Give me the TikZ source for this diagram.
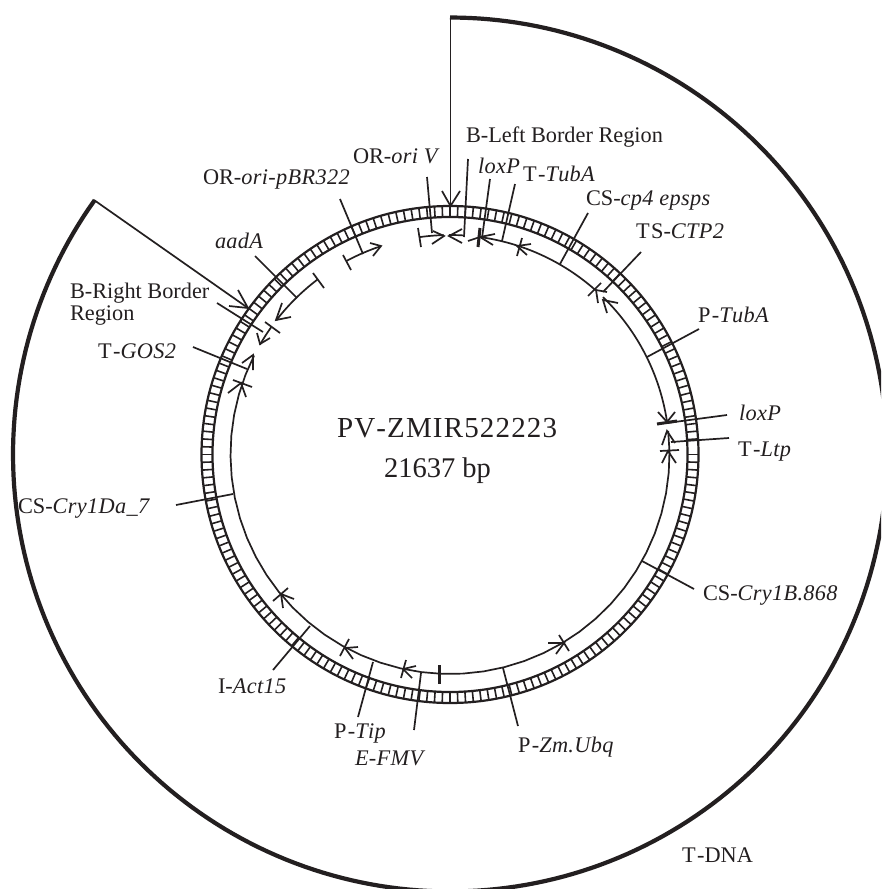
\documentclass[tikz,border=0pt]{standalone}
\usepackage{fontspec}
\setmainfont{Liberation Serif}[Kerning=Off,ItalicFeatures={LetterSpace=1.5,Kerning=Off}]
\definecolor{ink}{HTML}{231F20}
\newcommand{\txtsize}{\fontsize{22.3}{24}\selectfont}
\newcommand{\ringpart}[2]{\draw[gene] plot[domain=#1:#2,samples=40] ({450+219.5*cos(\x)},{454.5+219.5*sin(\x)});}
\newcommand{\lbl}[4]{\node[lab] (#1) at (#2,#3) {#4};}
\newcommand{\gp}{\kern1.5pt}
\tikzset{
 lab/.style={anchor=base west,inner sep=0pt,outer sep=0pt,text=ink,font=\txtsize},
 title/.style={anchor=base west,inner sep=0pt,outer sep=0pt,text=ink,font=\fontsize{28.5}{32}\selectfont},
 gene/.style={draw=ink,line width=1.7pt},
 leader/.style={draw=ink,line width=1.7pt},
 head/.style={draw=ink,line width=1.7pt,line join=miter},
 thickbar/.style={draw=ink,line width=3pt},
 outerarc/.style={draw=ink,line width=4.2pt},
 ringline/.style={draw=ink,line width=2.2pt},
 tick/.style={draw=ink,line width=1.6pt}
}
\begin{document}
\begin{tikzpicture}[x=1pt,y=-1pt]
\clip (0,0) rectangle (881,889);
\fill[white] (0,0) rectangle (881,889);
\coordinate (c) at (450,454.5);
% outer T-DNA arc
\draw[outerarc] plot[domain=-90:215.6,samples=240] ({450+437*cos(\x)},{454.5+437*sin(\x)});
% border arrows
\coordinate (tl) at (450.5,18); \coordinate (tlt) at (450.5,206);
\coordinate (tr) at (94,200); \coordinate (trt) at (248,308);
\draw[leader] (tl) -- (tlt);
\draw[head] (442,191) -- (tlt) -- (460,191);
\draw[leader] (tr) -- (trt);
\draw[head] (238,290) -- (trt) -- (229,306);
% ring
\foreach \a in {0,1.8,...,358.2} {\draw[tick] ({450+237.5*cos(\a)},{454.5+237.5*sin(\a)}) -- ({450+248.5*cos(\a)},{454.5+248.5*sin(\a)});}
\draw[ringline] (450,454.5) circle[x radius=237.5,y radius=237.5];
\draw[ringline] (450,454.5) circle[x radius=248.5,y radius=248.5];
% main feature arcs
\ringpart{-81.6}{-48.4}
\ringpart{-45.8}{-8.5}
\ringpart{-6.2}{206.8}
\ringpart{-97.9}{-91.6}
\ringpart{-90.3}{-86.3}
\ringpart{241.9}{251.7}
\ringpart{217.7}{232.9}
\ringpart{210}{215.4}
% leaders
\draw[leader] (340,199) -- (363,254);
\draw[leader] (255,256) -- (297,298);
\draw[leader] (217,303) -- (263,332);
\draw[leader] (193,347) -- (247,369);
\draw[leader] (427,177) -- (432,233);
\draw[leader] (468,159) -- (464,237);
\draw[leader] (490,179) -- (482,238);
\draw[leader] (515,184) -- (502,241);
\draw[leader] (588,213) -- (560,264);
\draw[leader] (641,252) -- (603,292);
\draw[leader] (699,329) -- (647,357);
\draw[leader] (727,415) -- (667,423);
\draw[leader] (729,438) -- (671,442);
\draw[leader] (694,589) -- (642,561);
\draw[leader] (503,668) -- (518,726);
\draw[leader] (421,673) -- (414,730);
\draw[leader] (373,662) -- (358,717);
\draw[leader] (310,626) -- (273,670);
\draw[leader] (176,505) -- (233,494);
% bars and heads
\draw[leader] (343,255) -- (351,270);
\draw[head] (370,243) -- (381,246) -- (373,256);
\draw[leader] (313,273) -- (324,288);
\draw[head] (282,303) -- (276,320) -- (291,317);
\draw[leader] (265,322) -- (280,333);
\draw[head] (257,333) -- (260,344) -- (270,338);
\draw[head] (242,363) -- (253,355) -- (253,370);
\draw[leader] (233,380) -- (252,387);
\draw[head] (228,393) -- (241,383) -- (246,397);
\draw[leader] (418,228) -- (421,247);
\draw[head] (433,231) -- (444,236) -- (432,244);
\draw[head] (462,229) -- (449,236) -- (462,243);
\draw[thickbar] (480,228) -- (478,247);
\draw[head] (495,234) -- (480,237) -- (493,245);
\draw[leader] (468,241) -- (480,237);
\draw[head] (531,244) -- (517,246) -- (527,255);
\draw[leader] (522,238) -- (517,256);
\draw[leader] (601,283) -- (588,296);
\draw[head] (607,292) -- (596,290) -- (598,303);
\draw[head] (618,303) -- (603,300) -- (607,313);
\draw[head] (658,412) -- (667,422) -- (675,412);
\draw[thickbar] (657,424) -- (677,421);
\draw[head] (662,445) -- (667,431) -- (675,443);
\draw[leader] (660,451) -- (679,450);
\draw[head] (662,463) -- (668,451) -- (676,463);
\draw[head] (294,599) -- (281,594) -- (283,608);
\draw[leader] (273,601) -- (288,588);
\draw[head] (358,647) -- (345,648) -- (353,659);
\draw[leader] (340,656) -- (349,639);
\draw[head] (416,666) -- (403,669) -- (412,678);
\draw[leader] (401,678) -- (406,660);
\draw[thickbar] (439,665) -- (439,684);
\draw[head] (548,643) -- (564,643) -- (556,654);
\draw[leader] (559,635) -- (569,651);
% labels
\lbl{a}{466}{142}{B-Left Border Region}
\lbl{b}{353}{163}{OR-\textit{ori V}}
\lbl{c1}{478}{173}{\textit{loxP}}
\lbl{d}{523}{181}{T\gp-\textit{TubA}}
\lbl{e}{586}{205}{CS-\textit{cp4 epsps}}
\lbl{f}{636}{238}{T\gp S-\textit{CTP2}}
\lbl{g}{203}{184}{OR-\textit{ori-pBR322}}
\lbl{h}{215}{248}{\textit{aadA}}
\lbl{i}{70}{298}{B-Right Border}
\lbl{j}{70}{320}{Region}
\lbl{k}{98}{358}{T\gp-\textit{GOS2}}
\lbl{l}{18}{513}{CS-\textit{Cry1Da\_7}}
\lbl{m}{218}{693}{I-\textit{Act15}}
\lbl{n}{334}{738}{P\gp-\textit{Tip}}
\lbl{o}{355}{765}{\textit{E-FMV}}
\lbl{p}{518}{752}{P\gp-\textit{Zm.Ubq}}
\lbl{q}{703}{600}{CS-\textit{Cry1B.868}}
\lbl{r}{698}{322}{P\gp-\textit{TubA}}
\lbl{s}{739}{420}{\textit{loxP}}
\lbl{t}{738}{456}{T\gp-\textit{Ltp}}
\lbl{u}{682}{862}{T\gp-DNA}
\node[title,font=\fontsize{29}{32}\selectfont\addfontfeatures{LetterSpace=4}] (v) at (337,437) {PV-ZMIR522223};
\node[title] (w) at (384,477) {21637 bp};
\end{tikzpicture}
\end{document}
